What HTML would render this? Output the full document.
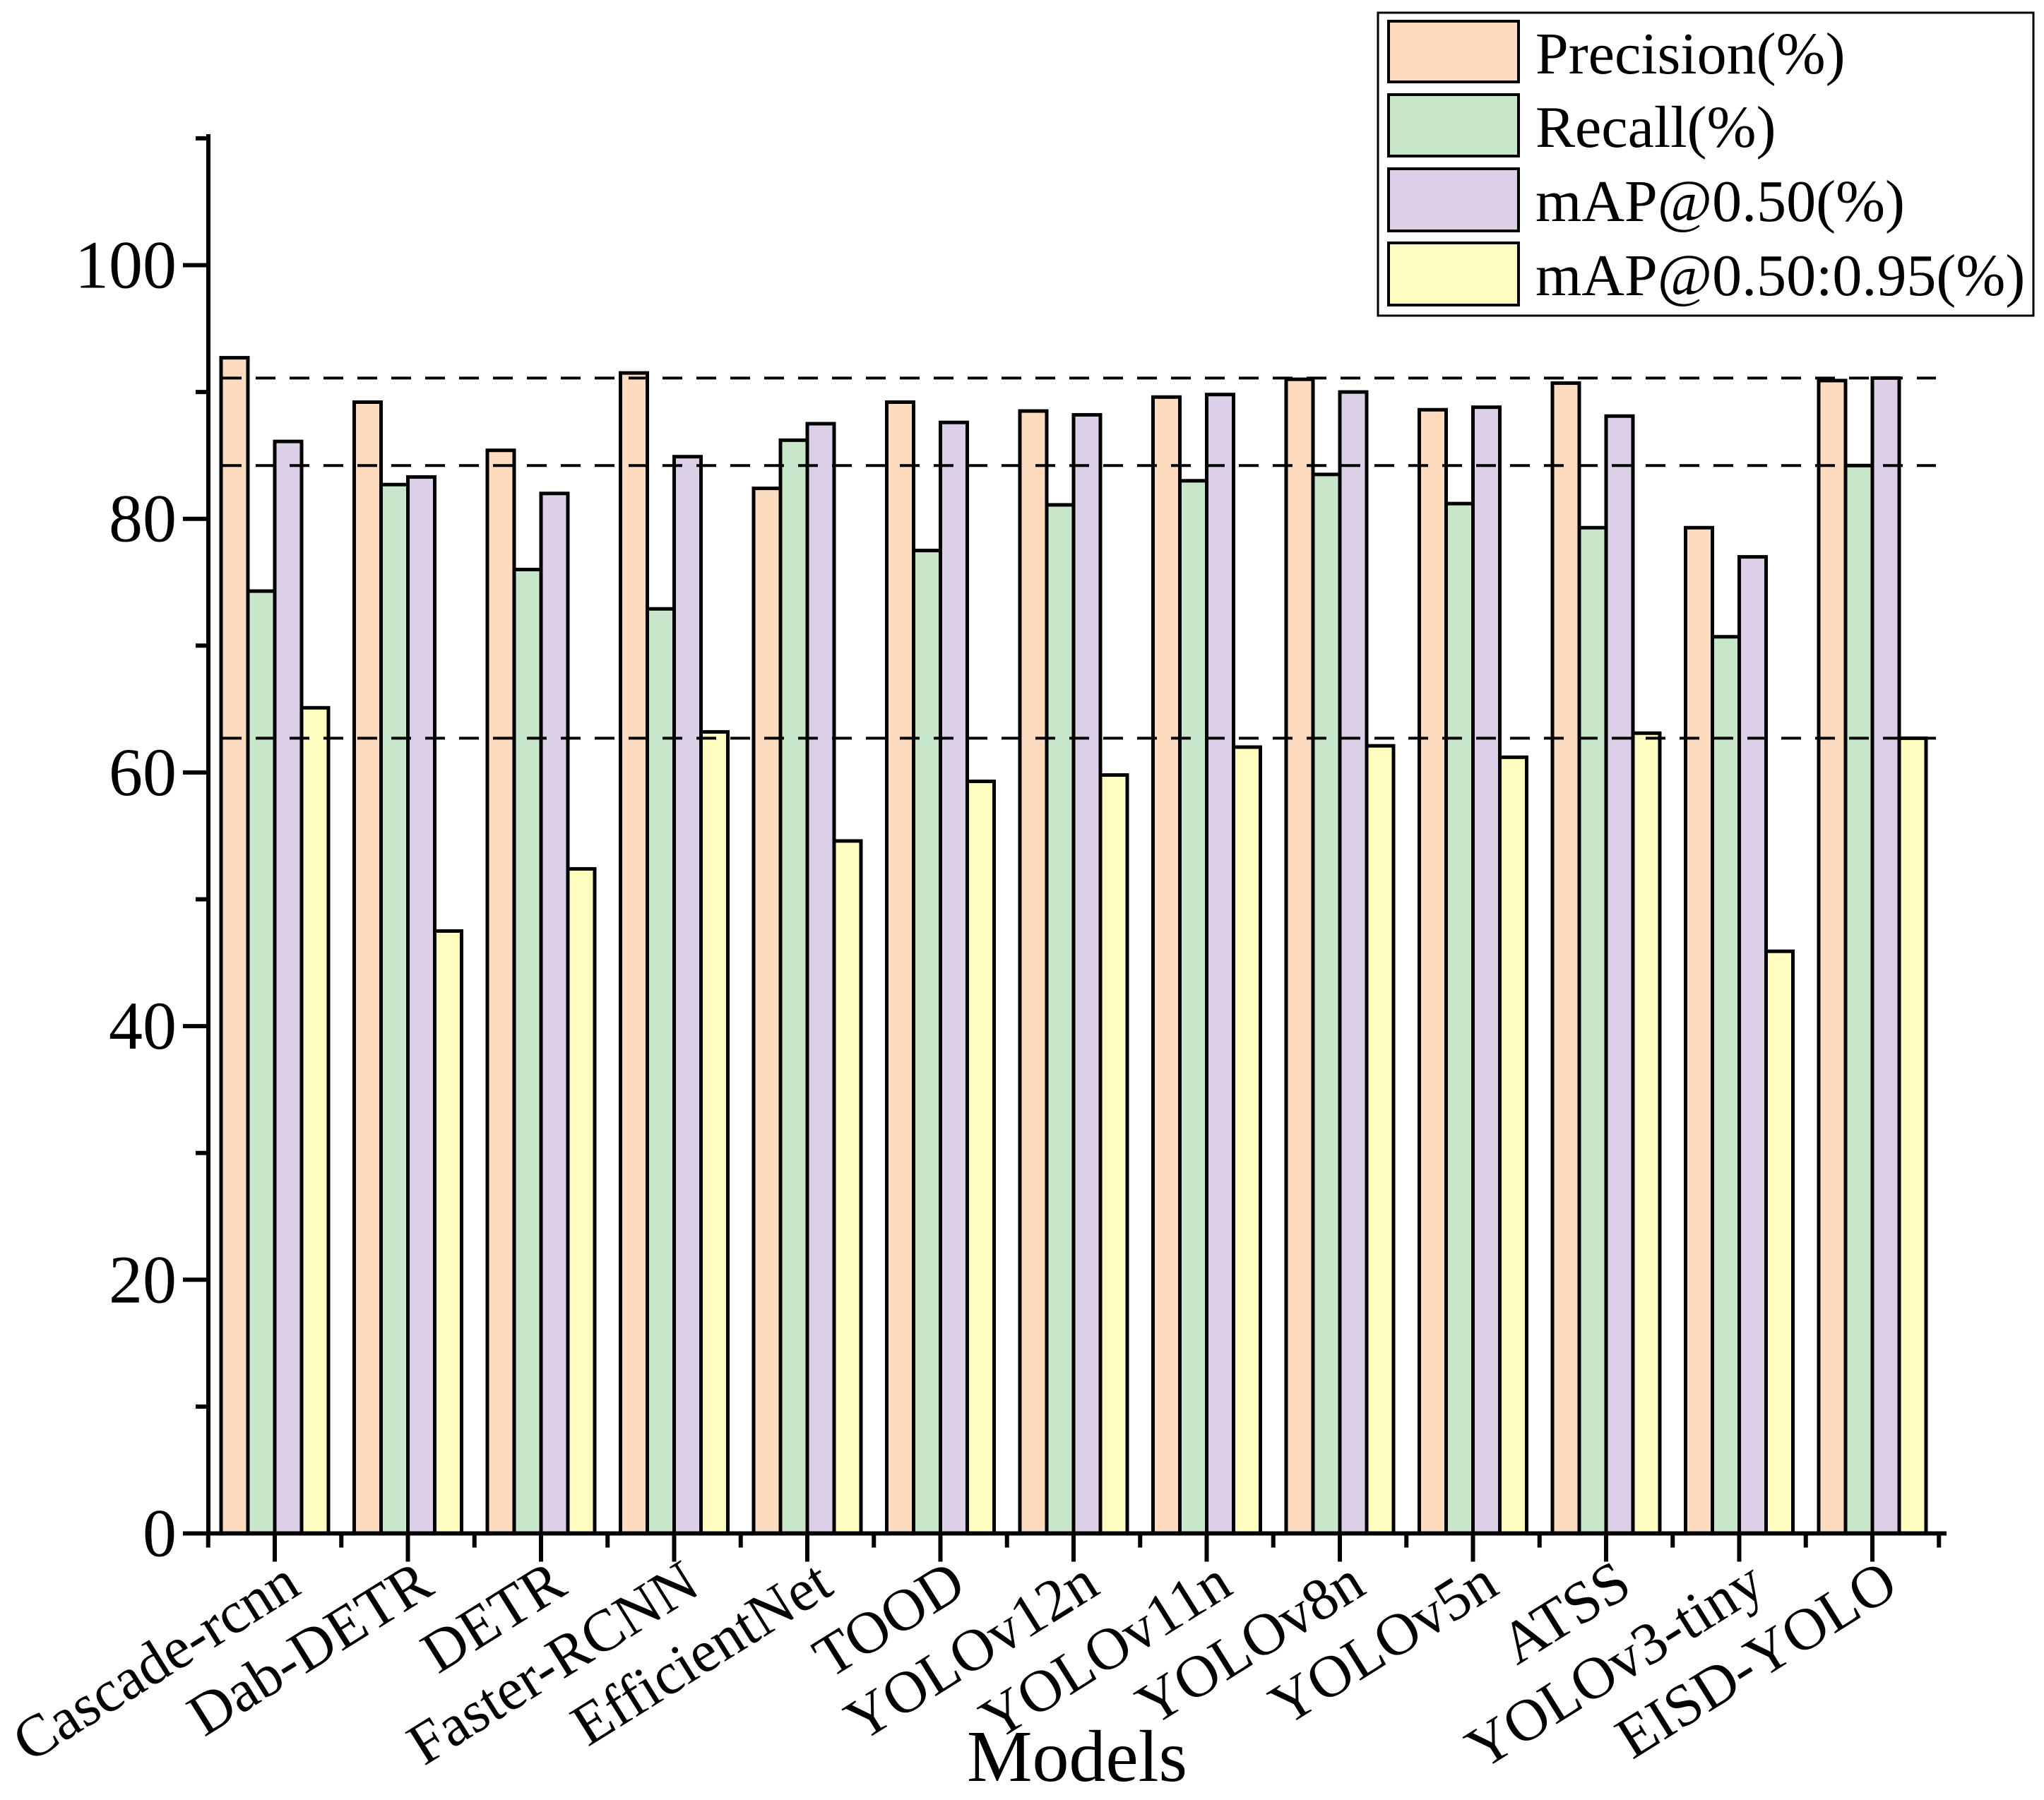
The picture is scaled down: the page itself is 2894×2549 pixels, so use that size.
<!DOCTYPE html>
<html><head><meta charset="utf-8"><style>html,body{margin:0;padding:0;background:#fff}svg{display:block}text{font-family:"Liberation Serif",serif;fill:#000}</style></head>
<body>
<svg id="chart" width="2894" height="2549" viewBox="0 0 2894 2549" xmlns="http://www.w3.org/2000/svg">
<g id="bars"></g>
<g id="refs"></g>
<g id="axes"></g>
<text x="1525" y="2522" font-size="104" text-anchor="middle">Models</text>
<g>
<rect x="1951" y="18" width="928" height="429" fill="#fff" stroke="#000" stroke-width="3"/>
<g><rect x="1966" y="30" width="184" height="86" fill="#FDDBBF" stroke="#000" stroke-width="4"/><text x="2174" y="104" font-size="84">Precision(%)</text></g>
<g><rect x="1966" y="134" width="184" height="87" fill="#C8E6C9" stroke="#000" stroke-width="4"/><text x="2174" y="208" font-size="84">Recall(%)</text></g>
<g><rect x="1966" y="239" width="184" height="88" fill="#DCD0E8" stroke="#000" stroke-width="4"/><text x="2174" y="313" font-size="84">mAP@0.50(%)</text></g>
<g><rect x="1966" y="344" width="184" height="88" fill="#FFFDC0" stroke="#000" stroke-width="4"/><text x="2174" y="418" font-size="84">mAP@0.50:0.95(%)</text></g>
</g>
</svg>
<script>
const categories = ["Cascade-rcnn","Dab-DETR","DETR","Faster-RCNN","EfficientNet","TOOD","YOLOv12n","YOLOv11n","YOLOv8n","YOLOv5n","ATSS","YOLOv3-tiny","EISD-YOLO"];
const precision = [92.7,89.2,85.4,91.5,82.4,89.2,88.5,89.6,91.0,88.6,90.7,79.3,90.9];
const recall = [74.3,82.7,76.0,72.9,86.2,77.5,81.1,83.0,83.5,81.2,79.3,70.7,84.2];
const map50 = [86.1,83.3,82.0,84.9,87.5,87.6,88.2,89.8,90.0,88.8,88.1,77.0,91.1];
const map5095 = [65.1,47.5,52.4,63.2,54.6,59.3,59.8,62.0,62.1,61.2,63.1,45.9,62.7];
const yTicks = [0,20,40,60,80,100];
const refValues = [91.1,84.2,62.7];

const NS="http://www.w3.org/2000/svg";
const X0=295, XEND=2756, Y0=2171.5, PER=17.96;
const first=389, step=188.5, bw=38;
function yS(v){return Y0 - v*PER;}
function xC(i){return first + i*step;}
function mk(tag,attrs,parent){const e=document.createElementNS(NS,tag);for(const k in attrs)e.setAttribute(k,attrs[k]);parent.appendChild(e);return e;}
const bars=document.getElementById('bars'), axes=document.getElementById('axes'), refs=document.getElementById('refs');
const series=[[precision,"#FDDBBF","precision"],[recall,"#C8E6C9","recall"],[map50,"#DCD0E8","map50"],[map5095,"#FFFDC0","map5095"]];
categories.forEach((c,i)=>{
  series.forEach((s,j)=>{
    const x=xC(i)-2*bw+j*bw, v=s[0][i];
    const r=mk('rect',{x:x,y:yS(v),width:bw,height:Y0-yS(v),fill:s[1],stroke:'#000','stroke-width':5},bars);
    
    
  });
});
refValues.forEach(v=>{
  const l=mk('line',{x1:314,x2:2741,y1:yS(v),y2:yS(v),stroke:'#000','stroke-width':4,'stroke-dasharray':'28 20'},refs);
  
  
});
let a=mk('line',{x1:X0,x2:X0,y1:190,y2:Y0+3,stroke:'#000','stroke-width':6},axes);


for(let v=0;v<=110;v+=10){
  const major=v%20===0;
  const t=mk('line',{x1:X0-(major?36:18),x2:X0,y1:yS(v),y2:yS(v),stroke:'#000','stroke-width':6},axes);
  
  
}
yTicks.forEach(v=>{
  const t=mk('text',{x:250,y:yS(v)+32,'font-size':96,'text-anchor':'end'},axes);
  t.textContent=String(v);
  
  
});
a=mk('line',{x1:X0-36,x2:XEND,y1:Y0,y2:Y0,stroke:'#000','stroke-width':6},axes);


for(let i=0;i<=categories.length;i++){
  const xm=xC(i)-step/2;
  const t=mk('line',{x1:xm,x2:xm,y1:Y0,y2:Y0+20,stroke:'#000','stroke-width':6},axes);
  
  
}
categories.forEach((c,i)=>{
  const t=mk('line',{x1:xC(i),x2:xC(i),y1:Y0,y2:Y0+40,stroke:'#000','stroke-width':6},axes);
  
  
  const lx=xC(i)+40, ly=2255;
  const tx=mk('text',{x:lx,y:ly,'font-size':84,'text-anchor':'end',transform:'rotate(-32 '+lx+' '+ly+')'},axes);
  tx.textContent=c;
  
  
});
</script>
</body></html>
